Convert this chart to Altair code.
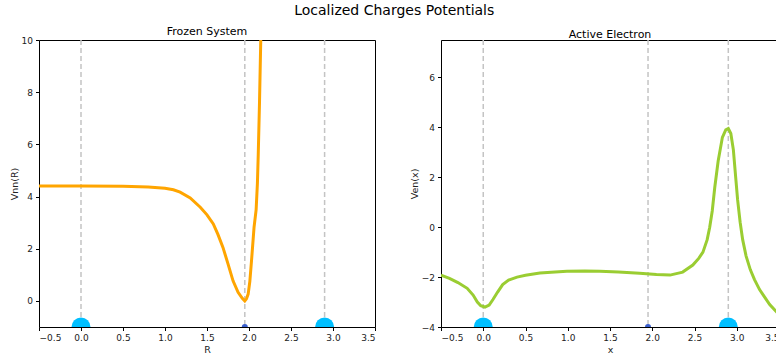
import altair as alt
import pandas as pd

# Frozen system potential Vnn(R)
R_vals = [-0.5, 0.0, 0.5, 0.8, 1.0, 1.1, 1.18, 1.3, 1.42, 1.5, 1.575, 1.63, 1.69, 1.75, 1.81, 1.87, 1.92, 1.95,
          1.97, 1.99, 2.01, 2.03, 2.06, 2.085, 2.1, 2.11, 2.125, 2.14, 2.16]
Vnn_vals = [4.4, 4.4, 4.39, 4.37, 4.32, 4.26, 4.17, 3.95, 3.59, 3.3, 2.95, 2.55, 2.05, 1.42, 0.77, 0.33, 0.1, 0.0,
            0.08, 0.26, 0.75, 1.54, 2.82, 3.5, 4.5, 5.6, 7.6, 10.0, 12.5]

# Active electron potential Ven(x)
x_vals = [-0.5, -0.4, -0.3, -0.19, -0.12, -0.07, -0.03, 0.02, 0.07, 0.115, 0.17, 0.23, 0.3, 0.4, 0.5, 0.67,
          0.85, 0.99, 1.2, 1.38, 1.6, 1.85, 2.05, 2.21, 2.36, 2.48, 2.55, 2.6, 2.65, 2.68, 2.71, 2.74, 2.78,
          2.83, 2.87, 2.9, 2.93, 2.96, 2.99, 3.01, 3.04, 3.07, 3.11, 3.16, 3.21, 3.27, 3.33, 3.39, 3.45, 3.5]
Ven_vals = [-1.92, -2.05, -2.22, -2.45, -2.72, -3.0, -3.15, -3.2, -3.12, -2.9, -2.6, -2.3, -2.12, -2.0, -1.93,
            -1.84, -1.8, -1.77, -1.76, -1.77, -1.8, -1.85, -1.9, -1.92, -1.8, -1.52, -1.25, -1.0, -0.5, 0.0, 0.65,
            1.6, 2.65, 3.6, 3.9, 3.95, 3.75, 3.1, 1.9, 1.1, 0.2, -0.5, -1.15, -1.7, -2.1, -2.5, -2.8, -3.1, -3.32,
            -3.5]

atom_pos = [0.0, 1.95, 2.9]
atom_kind = ["big", "small", "big"]

FONT = "DejaVu Sans"

frozen = pd.DataFrame({"x": R_vals, "y": Vnn_vals})
active = pd.DataFrame({"x": x_vals, "y": Ven_vals})
atoms = pd.DataFrame({"pos": atom_pos, "kind": atom_kind})

x_ticks = [-0.5, 0.0, 0.5, 1.0, 1.5, 2.0, 2.5, 3.0, 3.5]

common_axis = dict(grid=False, domainColor="#000", domainWidth=1, tickColor="#000", tickSize=3.5,
                   labelColor="#222", titleColor="#222", labelFont=FONT, titleFont=FONT,
                   labelFontSize=9, titleFontSize=9.5, titleFontWeight="normal",
                   labelPadding=3, titlePadding=2)
blank_axis = dict(common_axis, labels=False, ticks=False, title=None)


def panel(df, color, ydomain, yticks, title, xtitle, ytitle, width):
    xscale = alt.Scale(domain=[-0.5, 3.5], nice=False, zero=False)
    yscale = alt.Scale(domain=ydomain, nice=False, zero=False)

    rules = alt.Chart(atoms).mark_rule(
        strokeDash=[5, 3], color="#c4c4c4", strokeWidth=1.5
    ).encode(x=alt.X("pos:Q", scale=xscale, axis=alt.Axis(orient="top", **blank_axis)))

    line = alt.Chart(df).mark_line(color=color, strokeWidth=3, clip=True).encode(
        x=alt.X("x:Q", scale=xscale, axis=alt.Axis(values=x_ticks, format=".1f", title=xtitle, **common_axis)),
        y=alt.Y("y:Q", scale=yscale, axis=alt.Axis(values=yticks, format="d", title=ytitle, **common_axis)),
    )

    circles = alt.Chart(atoms).mark_circle(opacity=1, clip=True).transform_calculate(
        yb=str(ydomain[0])
    ).encode(
        x=alt.X("pos:Q", scale=xscale, axis=None),
        y=alt.Y("yb:Q", scale=yscale, axis=alt.Axis(orient="right", **blank_axis)),
        size=alt.Size("kind:N", scale=alt.Scale(domain=["big", "small"], range=[360, 36]), legend=None),
        color=alt.Color("kind:N", scale=alt.Scale(domain=["big", "small"], range=["#00bfff", "#3a5fcd"]),
                        legend=None),
    )

    return alt.layer(rules, line, circles).resolve_axis(x="independent", y="independent").properties(
        width=width, height=287,
        title=alt.TitleParams(title, fontSize=11, fontWeight="normal", font=FONT, offset=-1),
    )


left = panel(frozen, "#ffa500", [-1, 10], [0, 2, 4, 6, 8, 10], "Frozen System", "R", "Vnn(R)", 336)
right = panel(active, "#9acd32", [-4, 7.5], [-4, -2, 0, 2, 4, 6], "Active Electron", "x", "Ven(x)", 338)

chart = alt.hconcat(left, right, spacing=32).properties(
    title=alt.TitleParams("Localized Charges Potentials", fontSize=14, fontWeight="normal", font=FONT,
                          anchor="middle", offset=4, dy=-4),
    padding={"left": 8, "top": 3, "right": -4, "bottom": 0},
).configure_axis(
    grid=False
).configure_view(
    stroke=None
).configure(background="white")

chart.save("out.html", embed_options={"renderer": "svg", "actions": False})
